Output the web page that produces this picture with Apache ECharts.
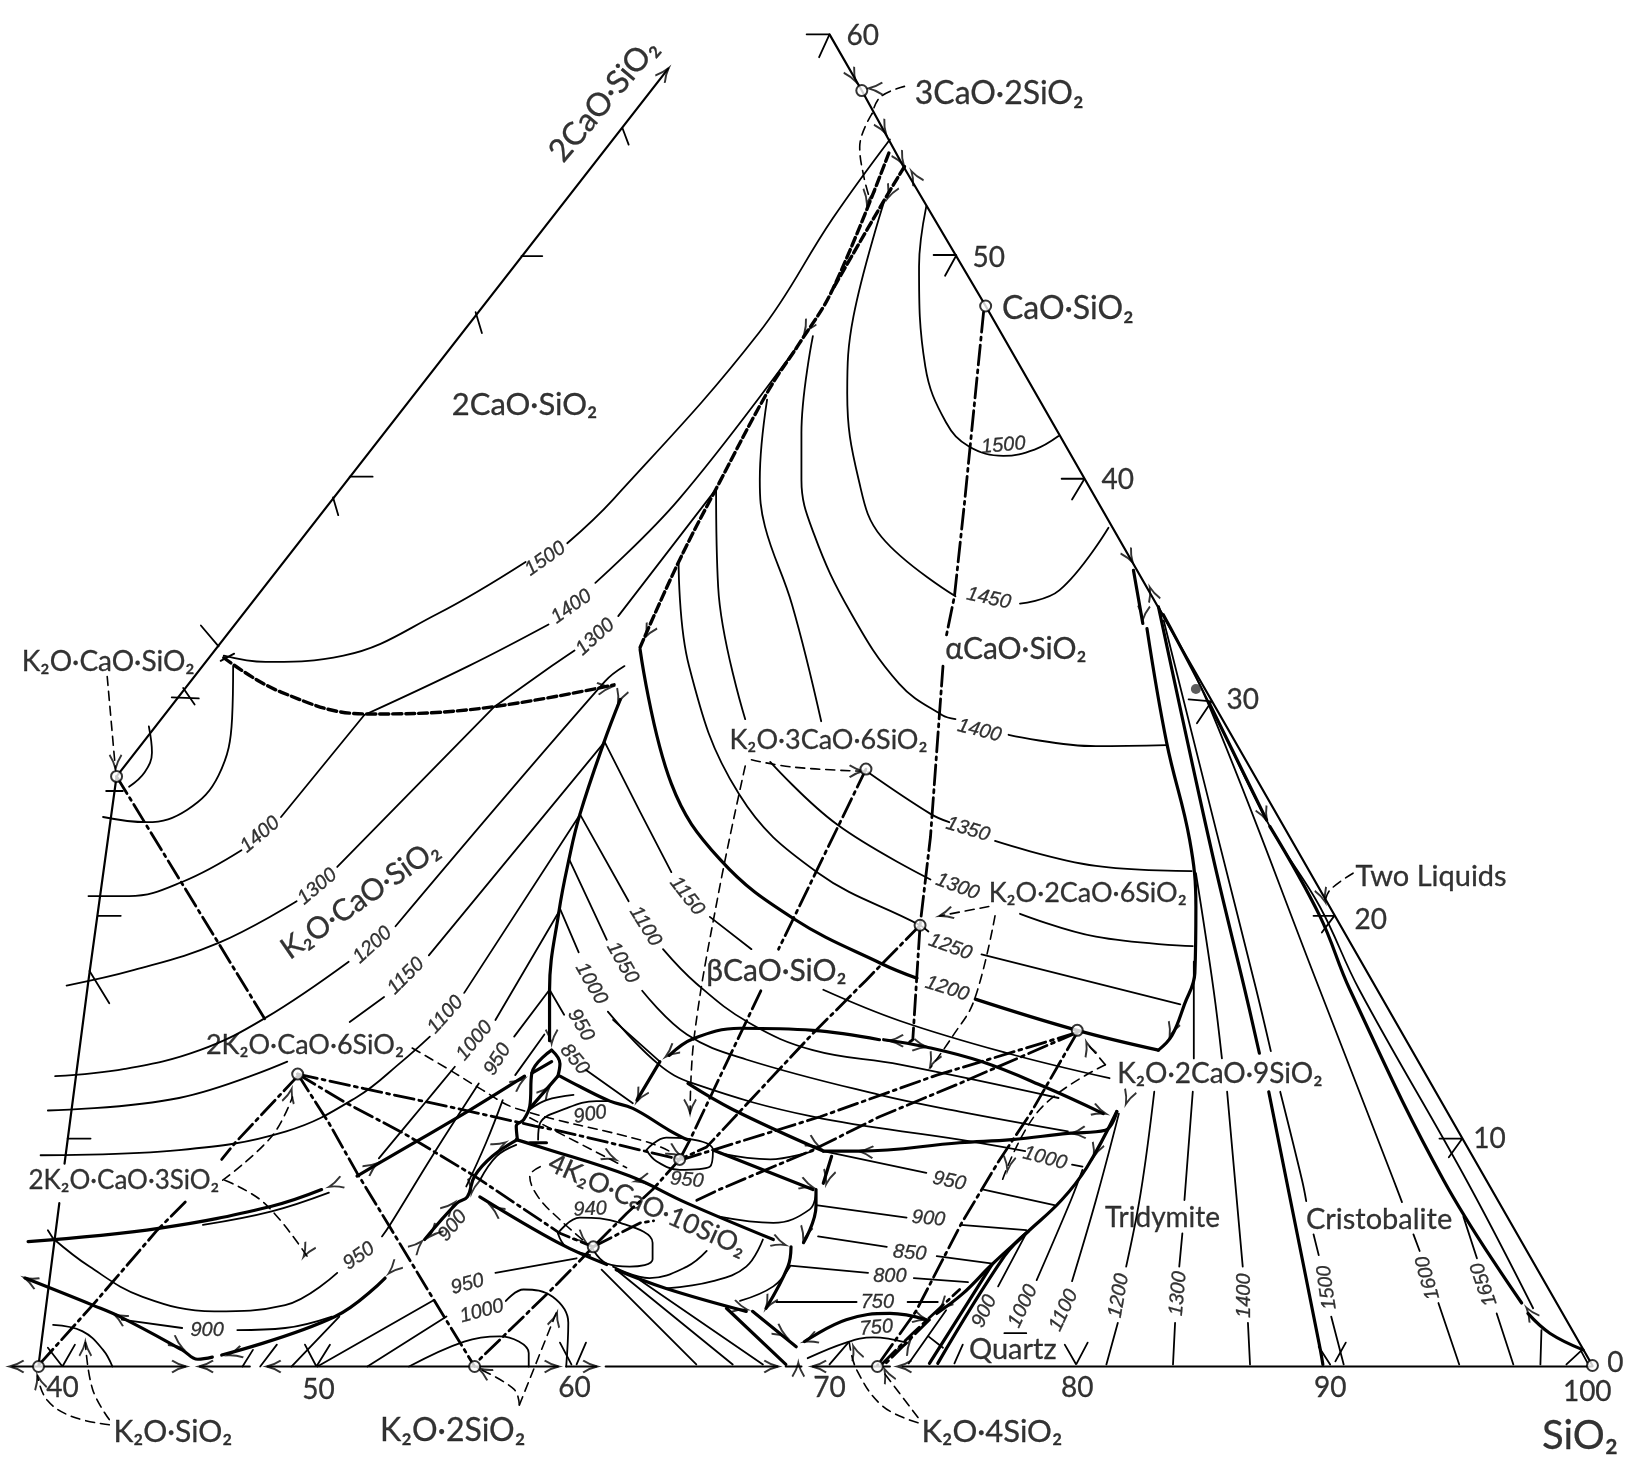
<!DOCTYPE html>
<html>
<head>
<meta charset="utf-8">
<style>html,body{margin:0;background:#fff}#chart{width:1632px;height:1481px}</style>
<script src="https://cdn.jsdelivr.net/npm/echarts@6/dist/echarts.min.js"></script>
</head>
<body>
<div id="chart"></div>
<script>
// all curves are [x, y], the axes below map them to the page
const frameLines = [
  [[57,1156],[37,1312]], [[62,1118],[85,942],[112,746]],
  [[112,746],[642,66]],
  [[797,33],[828,87],[868,160],[947,294],[1530,1312]],
  [[12,1313],[178,1313]], [[192,1313],[240,1313]], [[257,1313],[536,1313]], [[544,1313],[573,1313]],
  [[582,1313],[747,1313]], [[755,1313],[770,1313]], [[781,1313],[855,1313]], [[867,1313],[1530,1313]]
];
const tickMarks = [
  [[775,33],[797,33],[787,55]], [[897,245],[919,245],[908,265]], [[1020,460],[1042,460],[1030,480]],
  [[1142,672],[1164,674],[1150,695]], [[1262,880],[1282,880],[1270,896]], [[1383,1094],[1405,1094],[1392,1112]],
  [[598,123],[604,139]], [[501,246],[521,246]], [[457,300],[463,320]], [[336,458],[358,458]], [[320,478],[325,495]],
  [[165,670],[191,671]], [[176,661],[187,677]], [[102,760],[118,760]], [[94,880],[116,880]], [[86,933],[105,964]],
  [[65,1094],[87,1094]], [[46,1182],[51,1190]], [[46,1295],[60,1313],[72,1292]], [[233,1313],[243,1297]],
  [[250,1313],[266,1292]], [[293,1292],[304,1313],[317,1292]], [[538,1290],[549,1311]], [[554,1311],[563,1290]],
  [[1023,1292],[1034,1311],[1045,1290]], [[1278,1311],[1267,1294]], [[1283,1308],[1293,1290]], [[797,1311],[815,1290]], [[1481,1278],[1480,1311]],
  [[1505,1311],[1519,1298]], [[1519,1298],[1526,1311]], [[193,601],[210,621]], [[212,635],[225,628]],
  [[965,1281],[986,1281]], [[892,1284],[906,1295]]
];
const isotherms = [
  // upper left family
  [[215,630],[255,636],[330,630],[420,590],[505,540]], [[545,522],[589,480],[729,320],[800,210],[855,134]],
  [[224,640],[223,690],[210,745],[180,778],[141,790],[99,785]],
  [[143,698],[146,723],[139,742],[124,756]],
  [[350,687],[270,785]], [[232,817],[176,847],[124,861],[85,861]],
  [[350,687],[450,640],[527,600]], [[572,560],[652,480],[768,330]],
  [[475,679],[324,833]], [[285,866],[210,906],[129,932],[64,947]],
  [[475,679],[530,640],[552,625]], [[594,592],[688,470]],
  [[600,640],[581,655],[380,890]], [[335,924],[255,978],[192,1009],[120,1027],[53,1034]],
  [[580,714],[412,918]], [[369,958],[336,982]], [[276,1020],[172,1055],[46,1067]],
  [[557,783],[446,954]], [[413,996],[386,1020],[343,1054],[275,1087],[172,1105],[39,1110]],
  [[537,876],[476,980]], [[437,1025],[408,1060],[364,1113]],
  [[51,1190],[86,1217],[137,1246],[206,1260],[274,1254],[324,1223]],
  [[367,1188],[374,1178],[417,1108],[460,1041]], [[494,996],[528,951]],
  [[523,994],[495,1033]], [[483,1057],[467,1098],[448,1140]],
  [[195,1177],[261,1164],[316,1146]],
  // right of the dashed boundary
  [[890,198],[883,256],[889,352],[909,406],[931,429],[964,438],[994,432],[1017,419]],
  [[850,192],[820,304],[814,378],[825,461],[847,516],[918,573]], [[980,580],[1018,567],[1065,507]],
  [[781,323],[770,416],[770,461],[782,513],[817,588],[864,657],[905,687],[918,691]], [[969,706],[1053,717],[1121,716]],
  [[737,384],[730,461],[735,506],[761,581],[789,693]], [[834,742],[894,782],[912,790]], [[956,808],[1053,832],[1145,837]],
  [[688,471],[690,564],[716,691]], [[740,732],[804,792],[894,845]], [[980,878],[1053,900],[1146,909]],
  [[652,540],[662,640],[710,763],[785,838],[884,889],[892,895]], [[943,917],[1134,965]],
  // beta field down to the low isotherms
  [[581,713],[615,780],[645,838]], [[682,881],[722,912]], [[791,951],[865,981],[968,1012],[1066,1036]],
  [[557,782],[604,866]], [[637,912],[669,945],[720,983],[781,1009],[865,1023],[1017,1055]],
  [[547,826],[583,903]], [[617,952],[660,994],[717,1018],[845,1052],[922,1068],[1026,1087]],
  [[538,873],[556,915]], [[584,972],[632,1022],[666,1041],[781,1073],[922,1095],[985,1106]], [[1030,1119],[1040,1121]],
  [[528,951],[542,975]], [[563,1028],[608,1060]], [[589,980],[634,1020]],
  [[791,1106],[890,1127]], [[945,1143],[1013,1158]],
  [[784,1158],[871,1170]], [[923,1177],[986,1182]],
  [[786,1188],[852,1198]], [[900,1207],[952,1214]],
  [[759,1216],[834,1223]], [[878,1228],[930,1232]],
  [[746,1251],[823,1251]], [[872,1251],[901,1251]],
  [[776,1305],[813,1290],[839,1285],[871,1290]],
  // low corner
  [[509,1066],[525,1057],[551,1052]],
  [[517,1095],[519,1079],[544,1065],[573,1058],[586,1058]],
  [[496,1100],[477,1111],[461,1134]],
  [[621,1105],[640,1093],[660,1094],[685,1105],[682,1121],[653,1124],[631,1116],[621,1105]],
  [[536,1185],[557,1170],[596,1175],[627,1194],[627,1210],[605,1217],[583,1214],[570,1201]],
  [[536,1185],[544,1198],[567,1206]],
  [[691,1108],[740,1114],[781,1106]],
  [[691,1169],[743,1175],[778,1162],[784,1146]],
  [[589,1217],[624,1228],[660,1217],[679,1202]],
  [[640,1238],[685,1231],[717,1217],[733,1191]],
  [[711,1250],[743,1236],[759,1217]],
  [[578,1220],[669,1311]], [[592,1220],[704,1311]], [[615,1230],[733,1311]],
  [[117,1268],[175,1276]], [[228,1278],[274,1276],[319,1265]],
  [[51,1273],[79,1279],[99,1297],[108,1313]],
  [[280,1313],[326,1265]],
  [[305,1313],[417,1249]], [[476,1223],[554,1209]],
  [[353,1313],[429,1265]], [[486,1250],[503,1239],[531,1246],[546,1271],[544,1313]],
  [[393,1313],[446,1289],[480,1284],[508,1300],[508,1313]],
  // silica side
  [[986,1185],[959,1236]], [[925,1292],[917,1310]], [[909,1259],[873,1310]],
  [[1040,1124],[1029,1153],[996,1230]], [[1075,1070],[1053,1153],[1030,1231]],
  [[1109,1049],[1096,1146],[1082,1217]], [[1074,1271],[1063,1311]],
  [[1147,924],[1147,1017]], [[1146,1049],[1138,1153]], [[1136,1185],[1133,1217]], [[1129,1271],[1127,1311]],
  [[1149,839],[1166,951],[1174,1017]], [[1179,1049],[1194,1217]], [[1199,1271],[1201,1311]],
  [[1118,596],[1169,800],[1207,951],[1221,1010]], [[1230,1049],[1251,1134],[1255,1154]], [[1262,1186],[1267,1206]], [[1279,1265],[1291,1311]],
  [[1118,590],[1162,679],[1268,951],[1339,1134],[1347,1155]], [[1358,1186],[1364,1202]], [[1382,1252],[1402,1311]],
  [[1406,1169],[1419,1209]], [[1438,1262],[1454,1311]],
  [[1113,583],[1162,676],[1220,794],[1268,871],[1306,951],[1409,1134],[1473,1257]]
];
const boundaries = [
  [[615,624],[645,753],[692,826],[763,883],[847,926],[881,940]], [[937,960],[1035,990],[1113,1009]],
  [[1089,548],[1098,599]], [[1102,604],[1121,714],[1143,807],[1149,871],[1148,935],[1138,965],[1126,995],[1113,1009]],
  [[596,672],[580,714],[557,783],[547,824],[537,876],[528,951],[528,1000]],
  [[27,1193],[154,1180],[261,1159],[309,1143]], [[343,1130],[367,1116],[449,1068],[504,1034]],
  [[24,1228],[89,1254],[117,1266],[175,1297],[190,1306],[204,1304]],
  [[213,1302],[322,1265],[370,1228]], [[408,1191],[439,1156],[449,1150],[456,1130],[473,1111],[497,1095]],
  [[496,1095],[519,1102],[605,1130],[660,1156],[743,1191]],
  [[461,1150],[538,1195],[583,1215]],
  [[530,1009],[511,1031],[509,1063],[503,1076],[496,1082],[497,1094]], [[536,1034],[509,1065]],
  [[530,1009],[538,1022],[536,1034]], [[511,1031],[530,1020]],
  [[509,1098],[525,1098]], [[538,1034],[557,1044],[586,1058],[608,1065],[643,1086],[660,1095]],
  [[845,999],[781,990],[711,988],[666,998],[643,1014]], [[634,1020],[612,1057]],
  [[849,999],[890,1006],[943,1020],[1003,1044],[1060,1070]],
  [[661,1041],[704,1066],[791,1106]], [[685,1105],[781,1143]],
  [[799,1111],[791,1137]], [[784,1143],[784,1159],[772,1194]], [[760,1198],[757,1217],[736,1257]],
  [[592,1220],[640,1238],[717,1260]], [[723,1260],[765,1294]], [[698,1257],[755,1311]],
  [[773,1289],[813,1268],[855,1262],[890,1268]],
  [[791,1106],[826,1106],[922,1098],[972,1095],[1026,1089],[1062,1086],[1073,1068]],
  [[1073,1068],[1044,1122],[1020,1153],[988,1183],[953,1215],[925,1243],[900,1262]],
  [[988,1183],[965,1207],[901,1310]], [[953,1215],[893,1310]],
  [[1113,583],[1146,736],[1169,839],[1196,951],[1210,1012]], [[1219,1049],[1236,1134],[1268,1294],[1271,1311]],
  [[1162,676],[1217,788]], [[1220,794],[1268,880],[1297,951],[1387,1134],[1462,1252]], [[1468,1262],[1489,1281],[1521,1297]]
];
const dashedBoundaries = [
  [[215,632],[270,665],[352,686],[450,682],[590,658]],
  [[854,147],[800,278],[768,330],[739,374],[691,464],[652,540],[615,622]],
  [[869,160],[848,195],[800,278]]
];
const tieLines = [
  [[945,300],[927,480],[917,573],[909,612]], [[906,640],[894,804],[884,889],[877,999],[874,1001]],
  [[112,746],[255,980]],
  [[286,1032],[350,1046],[439,1065],[514,1082],[535,1086],[653,1114]],
  [[286,1032],[333,1060],[388,1089],[456,1130],[538,1185],[570,1198]],
  [[286,1032],[316,1079],[343,1127],[374,1178],[415,1246],[456,1313]],
  [[286,1034],[226,1098],[213,1114]], [[178,1155],[151,1182],[89,1254],[36,1313]],
  [[832,739],[748,912]], [[731,952],[663,1095],[653,1114]],
  [[884,889],[832,942],[781,993],[679,1102],[653,1114]],
  [[1035,992],[943,1020],[900,1033],[788,1073],[685,1105],[656,1114]],
  [[1035,992],[922,1041],[845,1073],[781,1105],[691,1143],[666,1155]],
  [[653,1114],[627,1143],[602,1166],[570,1198]],
  [[570,1198],[615,1175],[628,1173]],
  [[570,1198],[535,1234],[461,1306]],
  [[1035,992],[990,1070],[960,1115],[924,1175],[880,1260],[843,1312]],
  [[847,1311],[877,1281],[922,1239]],
  [[893,1268],[850,1311]]
];
const leaders = [
  [[103,650],[111,740]],
  [[722,730],[761,737],[829,741]], [[716,736],[690,860],[667,996],[663,1070]],
  [[838,109],[826,141],[830,170],[836,192]], [[869,83],[846,93],[838,109]],
  [[950,871],[903,880]], [[956,880],[936,961],[915,996],[894,1026]],
  [[1062,1023],[1044,1002]], [[1062,1023],[999,1066],[963,1134]],
  [[214,1134],[261,1092],[281,1054]], [[216,1134],[254,1156],[295,1207]],
  [[396,1007],[432,1028],[463,1047],[496,1065],[621,1097],[647,1108]],
  [[509,1074],[602,1122]],
  [[519,1121],[509,1130],[517,1150],[538,1172],[563,1194]],
  [[105,1369],[69,1361],[45,1345],[36,1322]], [[105,1364],[89,1335],[82,1290]],
  [[499,1350],[494,1335],[460,1315]], [[499,1350],[535,1260]],
  [[882,1367],[848,1351],[823,1316],[816,1290]], [[882,1362],[847,1316]],
  [[1300,839],[1278,855],[1273,866]]
];
const arrowHeads = [
  [10,1313,90],[178,1313,-90],[192,1313,90],[257,1313,90],[536,1313,-90],[573,1313,-90],[747,1313,-90],[781,1313,90],[863,1313,90],
  [822,78,-150],[851,128,-150],[868,158,-150],[876,165,30],[835,85,90],[833,195,170],[853,190,155],[773,320,150],[620,612,150],
  [587,660,-82],[642,66,-38],[594,675,160],[1088,540,-150],[1098,595,175],[1105,565,20],[1217,788,-155],[1467,1257,35],
  [1124,995,160],[1044,1002,20],[903,880,105],[829,741,-90],[894,1024,155],[968,1124,170],[1062,1070,-110],[1030,1089,95],[1051,1111,160],[1082,1060,160],
  [855,1000,90],[890,1006,-100],[640,1015,130],[612,1058,150],[663,1069,180],[787,1102,-120],[826,1106,85],[794,1137,165],[781,1141,-110],
  [772,1191,165],[736,1257,150],[754,1196,-110],[717,1258,-105],[755,1284,-125],[767,1310,0],[773,1289,110],[890,1268,-105],[820,1294,20],[850,1316,25],
  [903,1258,135],[874,1289,-35],[653,1110,-120],[563,1194,-130],[591,1114,-115],[611,1135,100],[472,1159,55],[503,1037,-55],[528,1044,-40],[530,1002,180],[485,1098,-60],
  [280,1047,-15],[292,1207,150],[362,1118,-55],[317,1140,110],[405,1193,-45],[374,1223,135],[436,1156,-45],[413,1188,135],[453,1146,170],
  [220,1302,105],[175,1295,-125],[110,1263,60],[24,1228,65],[36,1322,15],[82,1290,0],[460,1315,60],[535,1262,-15],[111,738,180],[1273,866,-160]
];
const compoundPoints = [[828,87],[947,294],[112,746],[832,739],[884,889],[1035,990],[286,1032],[653,1114],[570,1198],[37,1313],[456,1313],[843,1313],[1530,1312]];
const blackDots = [[1149,662]];

const tempLabels = ['1500','1400','1300','1400','1300','1200','1150','1100','1000','950','950','900','900','950','1000','900','950','940',
  '850','950','1000','1050','1100','1150','1500','1450','1400','1350','1300','1250','1200','1000','950','900','850','800','750','750',
  '900','1000','1100','1200','1300','1400','1500','1600','1650'];
const tempSpots = [[524,537,35],[549,583,35],[572,612,42],[250,802,40],[305,852,40],[358,908,42],[390,938,45],[428,975,48],[456,1000,50],[478,1018,58],[345,1207,35],[435,1178,50],[199,1278,0],[449,1234,15],[463,1260,15],[567,1071,10],[660,1134,-5],[567,1162,3],
  [552,1018,-50],[558,985,-60],[568,945,-60],[598,925,-60],[620,890,-58],[660,861,-52],[964,428,5],[950,575,-12],[941,702,-14],[930,797,-17],[920,852,-20],[913,910,-20],[910,950,-18],[1004,1113,-15],[912,1135,-12],[892,1171,-5],[874,1204,-5],[855,1226,0],[843,1251,0],[842,1276,5],
  [946,1260,65],[983,1255,65],[1022,1259,65],[1075,1245,80],[1132,1243,85],[1196,1245,90],[1275,1237,98],[1372,1228,105],[1426,1234,109]];

const nameLabels = ['2CaO·SiO₂','3CaO·2SiO₂','CaO·SiO₂','2CaO·SiO₂','K₂O·CaO·SiO₂','αCaO·SiO₂','K₂O·3CaO·6SiO₂','K₂O·CaO·SiO₂','K₂O·2CaO·6SiO₂','βCaO·SiO₂',
  '2K₂O·CaO·6SiO₂','K₂O·2CaO·9SiO₂','2K₂O·CaO·3SiO₂','4K₂O·CaO·10SiO₂','Two Liquids','Tridymite','Cristobalite','Quartz','K₂O·SiO₂','K₂O·2SiO₂','K₂O·4SiO₂'];
// x, y, rotation, font size
const nameSpots = [[580,96,50,32],[960,90,0,32],[1026,297,0,32],[504,389,0,31],[104,636,0,28],[976,624,0,30],[796,711,0,27],[346,864,35,30],[1045,858,0,27],[746,933,0,30],
  [293,1004,0,27],[1172,1032,0,28],[119,1134,0,26],[622,1158,-24,27],[1375,842,0,29],[1117,1170,0,28],[1325,1172,0,29],[973,1297,0,29],[166,1376,0,30],[435,1375,0,32],[953,1376,0,31]];

const axisNumbers = ['60','50','40','30','20','10','0','40','50','60','70','80','90','100'];
const axisSpots = [[829,35],[950,248],[1074,461],[1194,673],[1317,884],[1431,1094],[1552,1310],[60,1334],[306,1336],[552,1334],[797,1334],[1035,1334],[1278,1334],[1525,1337]];

const ink = '#000';
const chart = echarts.init(document.getElementById('chart'), null, {renderer: 'canvas'});

function curveSeries(list, width, smooth, dash) {
  return list.map(function (pts) {
    return {
      type: 'line', data: pts, symbol: 'none', smooth: smooth, smoothConstraint: false, silent: true,
      lineStyle: {color: ink, width: width, type: dash || 'solid', cap: 'round'}
    };
  });
}
function textSeries(texts, spots, font) {
  return {
    type: 'scatter', symbolSize: 1, silent: true, itemStyle: {color: 'transparent'},
    data: texts.map(function (t, i) {
      const own = spots[i][3] ? {fontSize: spots[i][3]} : {};
      return {
        value: spots[i].slice(0, 2),
        label: Object.assign({show: true, position: 'inside', formatter: t, rotate: spots[i][2] || 0, color: ink,
          textBorderColor: ink, textBorderWidth: 0.3}, font, own)
      };
    }),
    z: 6
  };
}

const series = [].concat(
  curveSeries(isotherms, 1.8, 0.4),
  curveSeries(frameLines, 2.2, false),
  curveSeries(tickMarks, 1.8, false),
  curveSeries(boundaries, 3.2, 0.4),
  curveSeries(dashedBoundaries, 3.4, 0.4, [9, 4]),
  curveSeries(tieLines, 2.8, false, [20, 5, 3, 5]),
  curveSeries(leaders, 1.6, 0.4, [9, 6])
);
series.push({
  type: 'scatter', silent: true, z: 4,
  symbol: 'path://M-8,18 Q-2,9 0,0 Q2,9 8,18', symbolSize: [12, 14],
  itemStyle: {color: 'transparent', borderColor: ink, borderWidth: 2},
  data: arrowHeads.map(function (a) {
    const r = a[2] * Math.PI / 180;
    return {value: [a[0] + 6 * Math.sin(r), a[1] + 6 * Math.cos(r)], symbolRotate: a[2]};
  })
});
series.push({type: 'scatter', silent: true, z: 5, symbolSize: 11, data: compoundPoints,
  itemStyle: {color: '#fff', borderColor: ink, borderWidth: 2}});
series.push({type: 'scatter', silent: true, z: 5, symbolSize: 10, data: blackDots, itemStyle: {color: '#333'}});
series.push(textSeries(tempLabels, tempSpots, {fontFamily: 'Liberation Sans', fontStyle: 'italic', fontSize: 20}));
series.push(textSeries(nameLabels, nameSpots, {fontFamily: 'Lato', fontSize: 28}));
series.push(textSeries(axisNumbers, axisSpots, {fontFamily: 'Lato', fontSize: 28}));
series.push(textSeries(['SiO₂'], [[1518,1380]], {fontFamily: 'Lato', fontSize: 40}));

chart.setOption({
  animation: false,
  backgroundColor: '#fff',
  grid: {left: 0, right: 0, top: 0, bottom: 0},
  xAxis: {type: 'value', min: 0, max: 1568, show: false},
  yAxis: {type: 'value', min: 0, max: 1423, inverse: true, show: false},
  series: series
});
</script>
</body>
</html>
